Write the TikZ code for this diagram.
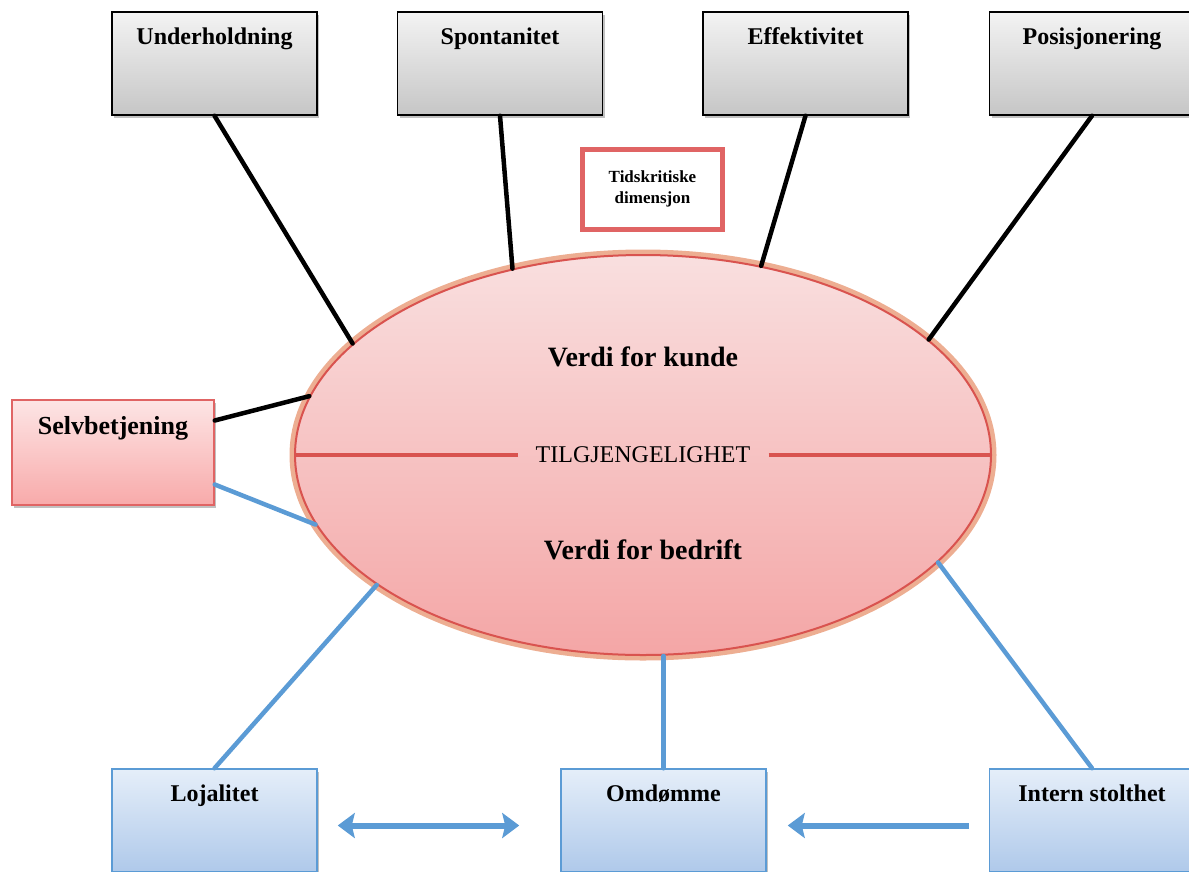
\documentclass[tikz,border=0pt]{standalone}
\usepackage{fontspec}
\setmainfont{Liberation Serif}
\usetikzlibrary{arrows.meta,positioning,shapes.geometric,shadows}
\definecolor{grayTop}{HTML}{F3F3F3}
\definecolor{grayBot}{HTML}{C6C6C6}
\definecolor{pinkTop}{HTML}{FDE5E5}
\definecolor{pinkBot}{HTML}{F8AAAA}
\definecolor{pinkLine}{HTML}{E06464}
\definecolor{blueTop}{HTML}{E5EEF9}
\definecolor{blueBot}{HTML}{AFC9EA}
\definecolor{blueLine}{HTML}{5B9BD5}
\definecolor{ellTop}{HTML}{F9DFDF}
\definecolor{ellBot}{HTML}{F4A6A6}
\definecolor{ellLine}{HTML}{D9534F}
\definecolor{ellGlow}{HTML}{EDAE92}

\begin{document}
\begin{tikzpicture}[x=1pt, y=-1pt, line cap=round,
  softshadow/.style={drop shadow={shadow xshift=2pt, shadow yshift=-3pt, opacity=.35, fill=black!70}},
  topbox/.style={draw=black, line width=1.5pt, top color=grayTop, bottom color=grayBot, minimum width=205pt, minimum height=103pt, inner sep=0pt, softshadow},
  selfbox/.style={draw=pinkLine, line width=1.5pt, top color=pinkTop, bottom color=pinkBot, minimum width=202pt, minimum height=105pt, inner sep=0pt, softshadow},
  botbox/.style={draw=blueLine, line width=1.5pt, top color=blueTop, bottom color=blueBot, minimum width=205pt, minimum height=103pt, inner sep=0pt, softshadow},
  boxtxt/.style={font=\bfseries\fontsize{24}{28}\selectfont, inner sep=2pt},
  valtxt/.style={font=\bfseries\fontsize{28}{32}\selectfont, inner sep=2pt},
  blackline/.style={draw=black, line width=4.5pt},
  blueline/.style={draw=blueLine, line width=4.5pt},
  bluearrow/.style={draw=blueLine, line width=6pt, line cap=butt, >={Stealth[length=17pt, width=25pt, inset=3pt]}}]
\useasboundingbox (0,0) rectangle (1189,871);

\node[ellipse, minimum width=696pt, minimum height=400pt, inner sep=0pt, top color=ellTop, bottom color=ellBot, draw=ellLine, line width=2pt, preaction={draw=ellGlow, line width=11pt}] (ell) at (643,455) {};
\node[font=\fontsize{24}{28}\selectfont, inner xsep=18pt, inner ysep=2pt] (tilg) at (643,455) {TILGJENGELIGHET};
\draw[draw=ellLine, line width=4pt, line cap=butt] (ell.west) -- (tilg.west);
\draw[draw=ellLine, line width=4pt, line cap=butt] (tilg.east) -- (ell.east);
\node[valtxt] (kunde) at (643,357) {Verdi for kunde};
\node[valtxt] (bedrift) at (643,550) {Verdi for bedrift};

\node[topbox] (und) at (214.5,63.5) {};
\node[topbox] (spon) at (500,63.5) {};
\node[topbox] (eff) at (805.5,63.5) {};
\node[topbox] (pos) at (1092,63.5) {};
\node[boxtxt, below=14pt of und.north] (undtxt) {Underholdning};
\node[boxtxt, below=14pt of spon.north] (spontxt) {Spontanitet};
\node[boxtxt, below=14pt of eff.north] (efftxt) {Effektivitet};
\node[boxtxt, below=14pt of pos.north] (postxt) {Posisjonering};

\node[draw=pinkLine, line width=5pt, fill=white, minimum width=140pt, minimum height=80pt, align=center, font=\bfseries\fontsize{17}{21}\selectfont] (tid) at (652.5,189) {Tidskritiske\\dimensjon};

\node[selfbox] (selv) at (113,452.5) {};
\node[boxtxt, font=\bfseries\fontsize{26}{30}\selectfont, below=15pt of selv.north] (selvtxt) {Selvbetjening};

\node[botbox] (loj) at (214.5,820.5) {};
\node[botbox] (omd) at (663.5,820.5) {};
\node[botbox] (int) at (1092,820.5) {};
\node[boxtxt, below=14pt of loj.north] (lojtxt) {Lojalitet};
\node[boxtxt, below=14pt of omd.north] (omdtxt) {Omdømme};
\node[boxtxt, below=14pt of int.north] (inttxt) {Intern stolthet};

\draw[blackline] (und.south) -- (ell.159);
\draw[blackline] (spon.south) -- (ell.125);
\draw[blackline] (eff.south) -- (ell.58);
\draw[blackline] (pos.south) -- (ell.22);
\draw[blackline] ([yshift=32pt]selv.east) -- (ell.170);

\draw[blueline] ([yshift=-32pt]selv.east) -- (ell.192);
\draw[blueline] (loj.north) -- (ell.206);
\draw[blueline] (omd.north) -- (omd.north |- ell.south);
\draw[blueline] (int.north) -- (ell.340);

\draw[bluearrow, <->] ([xshift=20pt, yshift=-5pt]loj.east) -- ([xshift=-41pt, yshift=-5pt]omd.west);
\draw[bluearrow, ->] ([xshift=-20pt, yshift=-5pt]int.west) -- ([xshift=21pt, yshift=-5pt]omd.east);
\end{tikzpicture}
\end{document}
